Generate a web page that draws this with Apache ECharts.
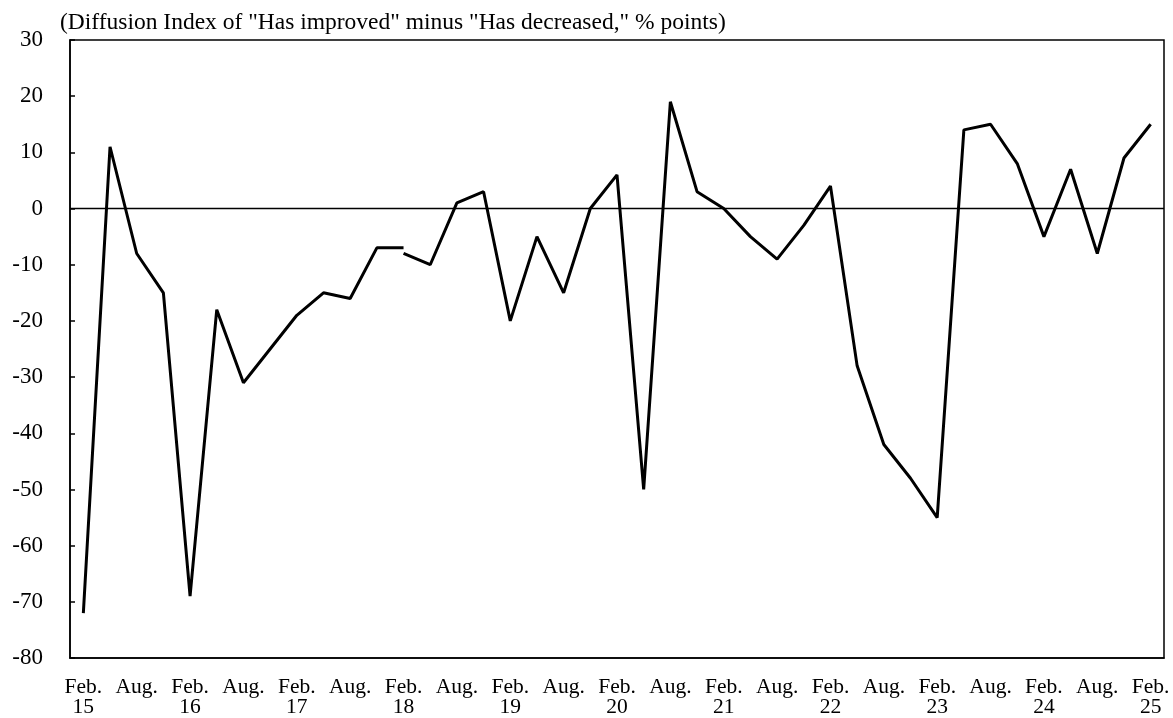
<!DOCTYPE html>
<html>
<head>
<meta charset="utf-8">
<script src="https://cdn.jsdelivr.net/npm/echarts@6/dist/echarts.min.js"></script>
<style>
  html, body { margin: 0; padding: 0; background: #fff; }
  #chart { width: 1173px; height: 718px; }
</style>
</head>
<body>
<div id="chart"></div>
<script>
// quarterly survey, Feb.15 - Feb.25 (labels shown for Feb. and Aug.)
const categories = [
  "Feb.\n15", "May", "Aug.", "Nov.",
  "Feb.\n16", "May", "Aug.", "Nov.",
  "Feb.\n17", "May", "Aug.", "Nov.",
  "Feb.\n18", "May", "Aug.", "Nov.",
  "Feb.\n19", "May", "Aug.", "Nov.",
  "Feb.\n20", "May", "Aug.", "Nov.",
  "Feb.\n21", "May", "Aug.", "Nov.",
  "Feb.\n22", "May", "Aug.", "Nov.",
  "Feb.\n23", "May", "Aug.", "Nov.",
  "Feb.\n24", "May", "Aug.", "Nov.",
  "Feb.\n25"
];

// old survey basis (up to Feb.18)
const oldBasis = [
  -72, 11, -8, -15,
  -69, -18, -31, -25,
  -19, -15, -16, -7,
  -7
];

// new survey basis (from Feb.18)
const newBasis = [
  -8, -10, 1, 3,
  -20, -5, -15, 0,
  6, -50, 19, 3,
  0, -5, -9, -3,
  4, -28, -42, -48,
  -55, 14, 15, 8,
  -5, 7, -8, 9,
  15
];

const yTicks = { min: -80, max: 30, step: 10 };
const titleText = '(Diffusion Index of "Has improved" minus "Has decreased," % points)';

const breakAt = oldBasis.length - 1;
const series1 = categories.map((c, i) => (i < oldBasis.length ? oldBasis[i] : null));
const series2 = categories.map((c, i) => (i >= breakAt ? newBasis[i - breakAt] : null));

const font = "'Liberation Serif', 'DejaVu Serif', serif";
const chart = echarts.init(document.getElementById("chart"));

chart.setOption({
  animation: false,
  backgroundColor: "#fff",
  title: {
    text: titleText,
    left: 55,
    top: 6,
    textStyle: { fontFamily: font, fontSize: 23.5, fontWeight: "normal", color: "#000" },
  },
  grid: {
    left: 70, right: 9, top: 40, bottom: 57,
    show: true, borderColor: "#000", borderWidth: 1.5,
  },
  xAxis: {
    type: "category",
    data: categories,
    boundaryGap: true,
    axisLine: { onZero: false, lineStyle: { color: "#000", width: 1.5 } },
    axisTick: { inside: true, length: 5, interval: 0, lineStyle: { color: "#000", width: 1.5 } },
    axisLabel: {
      interval: 1,
      margin: 19,
      color: "#000",
      fontFamily: font,
      fontSize: 21.5,
      lineHeight: 20,
      verticalAlign: "top",
    },
  },
  yAxis: {
    type: "value",
    min: yTicks.min,
    max: yTicks.max,
    interval: yTicks.step,
    axisLine: { show: true, lineStyle: { color: "#000", width: 1.5 } },
    axisTick: { show: true, inside: true, length: 5, lineStyle: { color: "#000", width: 1.5 } },
    splitLine: { show: false },
    axisLabel: { margin: 27, color: "#000", fontFamily: font, fontSize: 23 },
  },
  series: [
    {
      type: "line",
      data: series1,
      showSymbol: false,
      connectNulls: false,
      lineStyle: { color: "#000", width: 3 },
      markLine: {
        silent: true,
        symbol: "none",
        label: { show: false },
        lineStyle: { color: "#000", width: 1.3, type: "solid" },
        data: [{ yAxis: 0 }],
      },
      z: 3,
    },
    {
      type: "line",
      data: series2,
      showSymbol: false,
      connectNulls: false,
      lineStyle: { color: "#000", width: 3 },
      z: 3,
    },
  ],
});
</script>
</body>
</html>
